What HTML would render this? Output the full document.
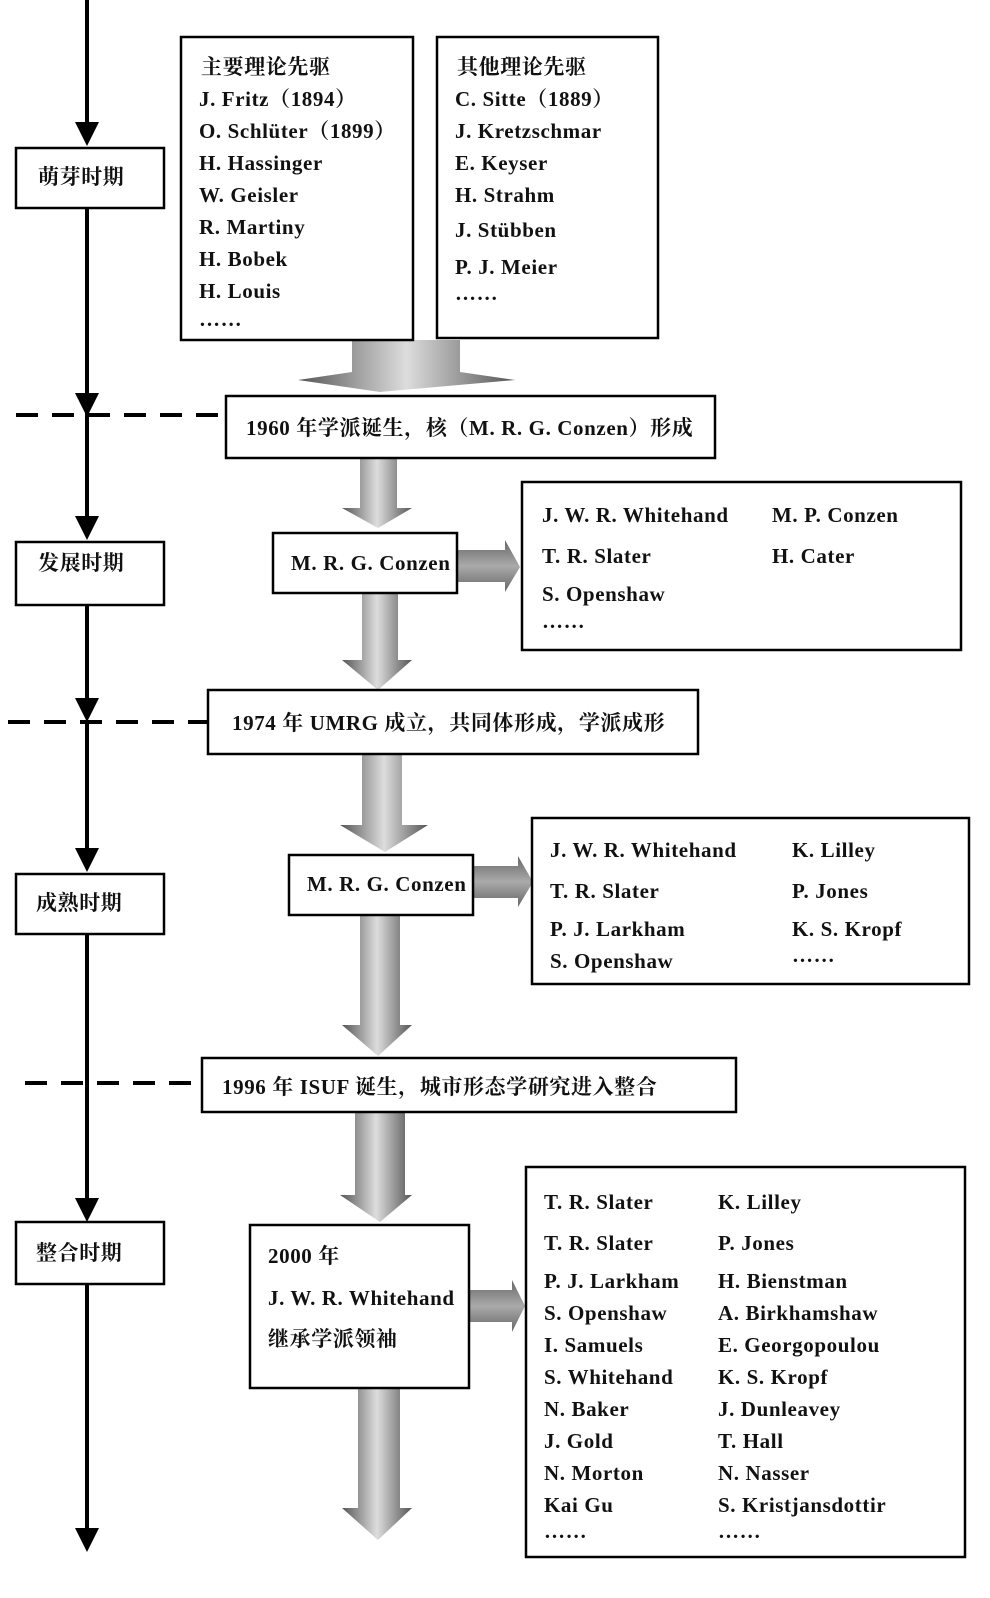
<!DOCTYPE html>
<html><head><meta charset="utf-8"><style>
html,body{margin:0;padding:0;background:#fff;}
svg text{font-family:"Liberation Serif","Noto Serif CJK SC",serif;font-weight:bold;fill:#111;font-size:21px;letter-spacing:0.6px;}
</style></head><body>
<svg width="990" height="1593" viewBox="0 0 990 1593" xmlns="http://www.w3.org/2000/svg">
<defs>
<linearGradient id="gv" x1="0" y1="0" x2="1" y2="0">
<stop offset="0" stop-color="#555"/><stop offset="0.5" stop-color="#ddd"/><stop offset="1" stop-color="#555"/>
</linearGradient>
<linearGradient id="gh" x1="0" y1="0" x2="0" y2="1">
<stop offset="0" stop-color="#666"/><stop offset="0.5" stop-color="#aaa"/><stop offset="1" stop-color="#666"/>
</linearGradient>
<marker id="ah" markerWidth="6" markerHeight="6" refX="5" refY="3" orient="auto" markerUnits="strokeWidth">
<path d="M0,0 L6,3 L0,6 z" fill="#000"/></marker>
</defs>
<g stroke="#000" stroke-width="4" fill="none">
<line x1="87" y1="0" x2="87" y2="142" marker-end="url(#ah)"/>
<line x1="87" y1="208" x2="87" y2="413" marker-end="url(#ah)"/>
<line x1="87" y1="413" x2="87" y2="536" marker-end="url(#ah)"/>
<line x1="87" y1="605" x2="87" y2="718" marker-end="url(#ah)"/>
<line x1="87" y1="722" x2="87" y2="868" marker-end="url(#ah)"/>
<line x1="87" y1="934" x2="87" y2="1218" marker-end="url(#ah)"/>
<line x1="87" y1="1284" x2="87" y2="1548" marker-end="url(#ah)"/>
</g>
<g stroke="#000" stroke-width="4" stroke-dasharray="22,14">
<line x1="16" y1="415" x2="226" y2="415"/>
<line x1="8" y1="722" x2="208" y2="722"/>
<line x1="25" y1="1083" x2="202" y2="1083"/>
</g>
<g fill="url(#gv)">
<polygon points="352,340 460,340 460,372 515,380 380,392 298,380 352,372"/>
<polygon points="360,458 397,458 397,508 412,508 378,528 342,508 360,508"/>
<polygon points="362,593 398,593 398,660 412,660 378,690 342,660 362,660"/>
<polygon points="362,754 402,754 402,825 428,825 385,852 340,825 362,825"/>
<polygon points="360,915 400,915 400,1025 412,1025 378,1056 342,1025 360,1025"/>
<polygon points="355,1112 405,1112 405,1195 412,1195 380,1222 340,1195 355,1195"/>
<polygon points="358,1388 400,1388 400,1508 412,1508 378,1540 342,1508 358,1508"/>
</g>
<g fill="url(#gh)">
<polygon points="457,550 505,550 505,540 520,567 505,592 505,582 457,582"/>
<polygon points="473,866 518,866 518,856 533,882 518,907 518,898 473,898"/>
<polygon points="469,1290 512,1290 512,1280 525,1306 512,1332 512,1322 469,1322"/>
</g>
<g fill="#fff" stroke="#000" stroke-width="2.5">
<rect x="16" y="148" width="148" height="60"/>
<rect x="16" y="542" width="148" height="63"/>
<rect x="16" y="874" width="148" height="60"/>
<rect x="16" y="1222" width="148" height="62"/>
<rect x="181" y="37" width="232" height="303"/>
<rect x="437" y="37" width="221" height="301"/>
<rect x="226" y="396" width="489" height="62"/>
<rect x="273" y="533" width="184" height="60"/>
<rect x="522" y="482" width="439" height="168"/>
<rect x="208" y="690" width="490" height="64"/>
<rect x="289" y="855" width="184" height="60"/>
<rect x="532" y="818" width="437" height="166"/>
<rect x="202" y="1058" width="534" height="54"/>
<rect x="250" y="1225" width="219" height="163"/>
<rect x="526" y="1167" width="439" height="390"/>
</g>
<text x="38" y="184">萌芽时期</text>
<text x="38" y="570">发展时期</text>
<text x="36" y="910">成熟时期</text>
<text x="36" y="1260">整合时期</text>
<g>
<text x="201" y="74">主要理论先驱</text>
<text x="199" y="106">J. Fritz（1894）</text>
<text x="199" y="138">O. Schlüter（1899）</text>
<text x="199" y="170">H. Hassinger</text>
<text x="199" y="202">W. Geisler</text>
<text x="199" y="234">R. Martiny</text>
<text x="199" y="266">H. Bobek</text>
<text x="199" y="298">H. Louis</text>
<text x="199" y="326">……</text>
<text x="457" y="74">其他理论先驱</text>
<text x="455" y="106">C. Sitte（1889）</text>
<text x="455" y="138">J. Kretzschmar</text>
<text x="455" y="170">E. Keyser</text>
<text x="455" y="202">H. Strahm</text>
<text x="455" y="237">J. Stübben</text>
<text x="455" y="274">P. J. Meier</text>
<text x="455" y="300">……</text>
</g>
<text x="246" y="435">1960 年学派诞生，核（M. R. G. Conzen）形成</text>
<text x="291" y="570">M. R. G. Conzen</text>
<text x="542" y="522">J. W. R. Whitehand</text>
<text x="772" y="522">M. P. Conzen</text>
<text x="542" y="563">T. R. Slater</text>
<text x="772" y="563">H. Cater</text>
<text x="542" y="601">S. Openshaw</text>
<text x="542" y="628">……</text>
<text x="232" y="730">1974 年 UMRG 成立，共同体形成，学派成形</text>
<text x="307" y="891">M. R. G. Conzen</text>
<text x="550" y="857">J. W. R. Whitehand</text>
<text x="792" y="857">K.  Lilley</text>
<text x="550" y="898">T. R. Slater</text>
<text x="792" y="898">P. Jones</text>
<text x="550" y="936">P. J. Larkham</text>
<text x="792" y="936">K. S. Kropf</text>
<text x="550" y="968">S. Openshaw</text>
<text x="792" y="962">……</text>
<text x="222" y="1094">1996 年 ISUF 诞生，城市形态学研究进入整合</text>
<text x="268" y="1263">2000 年</text>
<text x="268" y="1305">J. W. R. Whitehand</text>
<text x="268" y="1346">继承学派领袖</text>
<g>
<text x="544" y="1209">T. R. Slater</text><text x="718" y="1209">K. Lilley</text>
<text x="544" y="1250">T. R. Slater</text><text x="718" y="1250">P. Jones</text>
<text x="544" y="1288">P. J. Larkham</text><text x="718" y="1288">H. Bienstman</text>
<text x="544" y="1320">S. Openshaw</text><text x="718" y="1320">A. Birkhamshaw</text>
<text x="544" y="1352">I. Samuels</text><text x="718" y="1352">E. Georgopoulou</text>
<text x="544" y="1384">S. Whitehand</text><text x="718" y="1384">K. S. Kropf</text>
<text x="544" y="1416">N. Baker</text><text x="718" y="1416">J. Dunleavey</text>
<text x="544" y="1448">J. Gold</text><text x="718" y="1448">T. Hall</text>
<text x="544" y="1480">N. Morton</text><text x="718" y="1480">N. Nasser</text>
<text x="544" y="1512">Kai Gu</text><text x="718" y="1512">S. Kristjansdottir</text>
<text x="544" y="1538">……</text><text x="718" y="1538">……</text>
</g>
</svg>
</body></html>
